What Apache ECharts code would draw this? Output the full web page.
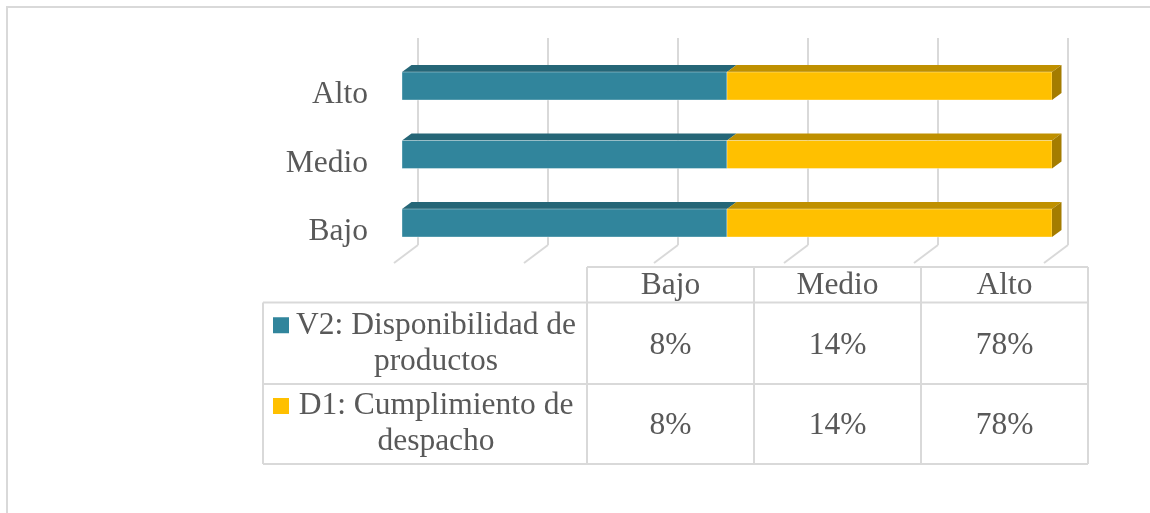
<!DOCTYPE html>
<html>
<head>
<meta charset="utf-8">
<script src="https://cdn.jsdelivr.net/npm/echarts@6/dist/echarts.min.js"></script>
<style>
	html, body { margin: 0; padding: 0; background: #fff; }
	#chart { width: 1150px; height: 513px; }
</style>
</head>
<body>
<div id="chart"></div>
<script>
var categories = ['Bajo', 'Medio', 'Alto'];
var seriesNames = ['V2: Disponibilidad de\nproductos', 'D1: Cumplimiento de\ndespacho'];
var v2Values = [8, 14, 78];
var d1Values = [8, 14, 78];
var axisTicks = [0, 20, 40, 60, 80, 100];

var frontColors = ['#31859c', '#ffc000'];
var topColors = ['#256677', '#bf9000'];
var sideColor = '#a47c00';
var textColor = '#595959';
var lineColor = '#d9d9d9';
var fontFamily = '"Liberation Serif", "Times New Roman", serif';

// porcentaje apilado (100%)
var allValues = [v2Values, d1Values];
var stacked = [[], []];
for (var i = 0; i < categories.length; i++) {
	var total = 0;
	for (var s = 0; s < allValues.length; s++) {
		total += allValues[s][i];
	}
	var start = 0;
	for (var s = 0; s < allValues.length; s++) {
		var pct = allValues[s][i] / total * 100;
		stacked[s].push([i, start, start + pct]);
		start += pct;
	}
}

function barItem(sIdx) {
	return function(params, api) {
		var cat = api.value(0);
		var p0 = api.coord([api.value(1), cat]);
		var p1 = api.coord([api.value(2), cat]);
		var h = 28, dx = 9.5, dy = 7;
		var top = p0[1] - 9 - h / 2;
		var bot = top + h;
		var children = [{
			type: 'polygon',
			shape: { points: [[p0[0], top], [p0[0] + dx, top - dy], [p1[0] + dx, top - dy], [p1[0], top]] },
			style: { fill: topColors[sIdx] }
		}, {
			type: 'rect',
			shape: { x: p0[0], y: top, width: p1[0] - p0[0], height: h },
			style: { fill: frontColors[sIdx], stroke: 'rgba(255,255,255,0.35)', lineWidth: 1 }
		}];
		if (sIdx == allValues.length - 1) {
			children.push({
				type: 'polygon',
				shape: { points: [[p1[0], top], [p1[0] + dx, top - dy], [p1[0] + dx, bot - dy], [p1[0], bot]] },
				style: { fill: sideColor }
			});
		}
		return { type: 'group', children: children };
	};
}

// tabla de datos
var colX = [263, 587, 754, 921, 1088];
var rowY = [267, 302.5, 384, 464];
var graphics = [];
graphics.push({
	type: 'rect', silent: true,
	shape: { x: 7, y: 7, width: 1300, height: 700 },
	style: { fill: null, stroke: lineColor, lineWidth: 2 }
});
function hline(y, x1, x2) {
	graphics.push({ type: 'line', shape: { x1: x1, y1: y, x2: x2, y2: y }, style: { stroke: lineColor, lineWidth: 2 } });
}
function vline(x, y1, y2) {
	graphics.push({ type: 'line', shape: { x1: x, y1: y1, x2: x, y2: y2 }, style: { stroke: lineColor, lineWidth: 2 } });
}
hline(rowY[0], colX[1], colX[4]);
hline(rowY[1], colX[0], colX[4]);
hline(rowY[2], colX[0], colX[4]);
hline(rowY[3], colX[0], colX[4]);
vline(colX[0], rowY[1], rowY[3]);
for (var c = 1; c < colX.length; c++) {
	vline(colX[c], rowY[0], rowY[3]);
}
for (var c = 0; c < categories.length; c++) {
	graphics.push({
		type: 'text',
		x: (colX[c + 1] + colX[c + 2]) / 2, y: (rowY[0] + rowY[1]) / 2 + 1,
		style: { text: categories[c], fill: textColor, font: '31.5px ' + fontFamily, textAlign: 'center', textVerticalAlign: 'middle' }
	});
}
for (var s = 0; s < allValues.length; s++) {
	var cy = (rowY[s + 1] + rowY[s + 2]) / 2;
	graphics.push({
		type: 'rect',
		shape: { x: 273, y: cy - 26, width: 16, height: 16 },
		style: { fill: frontColors[s] }
	});
	graphics.push({
		type: 'text',
		x: 436, y: cy,
		style: { text: seriesNames[s], fill: textColor, font: '31.5px ' + fontFamily, textAlign: 'center', textVerticalAlign: 'middle', lineHeight: 36 }
	});
	for (var c = 0; c < categories.length; c++) {
		graphics.push({
			type: 'text',
			x: (colX[c + 1] + colX[c + 2]) / 2, y: cy + 2,
			style: { text: allValues[s][c] + '%', fill: textColor, font: '31.5px ' + fontFamily, textAlign: 'center', textVerticalAlign: 'middle' }
		});
	}
}

var ech = echarts.init(document.getElementById('chart'));
var option = {
	animation: false,
	grid: [{
		left: 418, width: 650, top: 38, height: 207
	}, {
		left: 402, width: 650, top: 60.75, height: 205.5
	}],
	xAxis: [{
		gridIndex: 0, type: 'value', min: 0, max: 100, interval: 20,
		axisLabel: { show: false }, axisLine: { show: false }, axisTick: { show: false },
		splitLine: { show: true, lineStyle: { color: lineColor, width: 2 } }
	}, {
		gridIndex: 1, type: 'value', min: 0, max: 100, show: false
	}],
	yAxis: [{
		gridIndex: 0, type: 'value', min: 0, max: 1, show: false
	}, {
		gridIndex: 1, type: 'category', data: categories,
		axisLine: { show: false }, axisTick: { show: false },
		axisLabel: { color: textColor, fontFamily: fontFamily, fontSize: 31.5, margin: 34 }
	}],
	series: [{
		type: 'custom',
		xAxisIndex: 0, yAxisIndex: 0,
		silent: true,
		data: axisTicks,
		renderItem: function(params, api) {
			var p = api.coord([api.value(0), 0]);
			return {
				type: 'line',
				shape: { x1: p[0], y1: p[1], x2: p[0] - 24, y2: p[1] + 18 },
				style: { stroke: lineColor, lineWidth: 2 }
			};
		}
	}, {
		name: seriesNames[0],
		type: 'custom',
		xAxisIndex: 1, yAxisIndex: 1,
		data: stacked[0],
		renderItem: barItem(0)
	}, {
		name: seriesNames[1],
		type: 'custom',
		xAxisIndex: 1, yAxisIndex: 1,
		data: stacked[1],
		renderItem: barItem(1)
	}],
	graphic: graphics
};
ech.setOption(option);
</script>
</body>
</html>
